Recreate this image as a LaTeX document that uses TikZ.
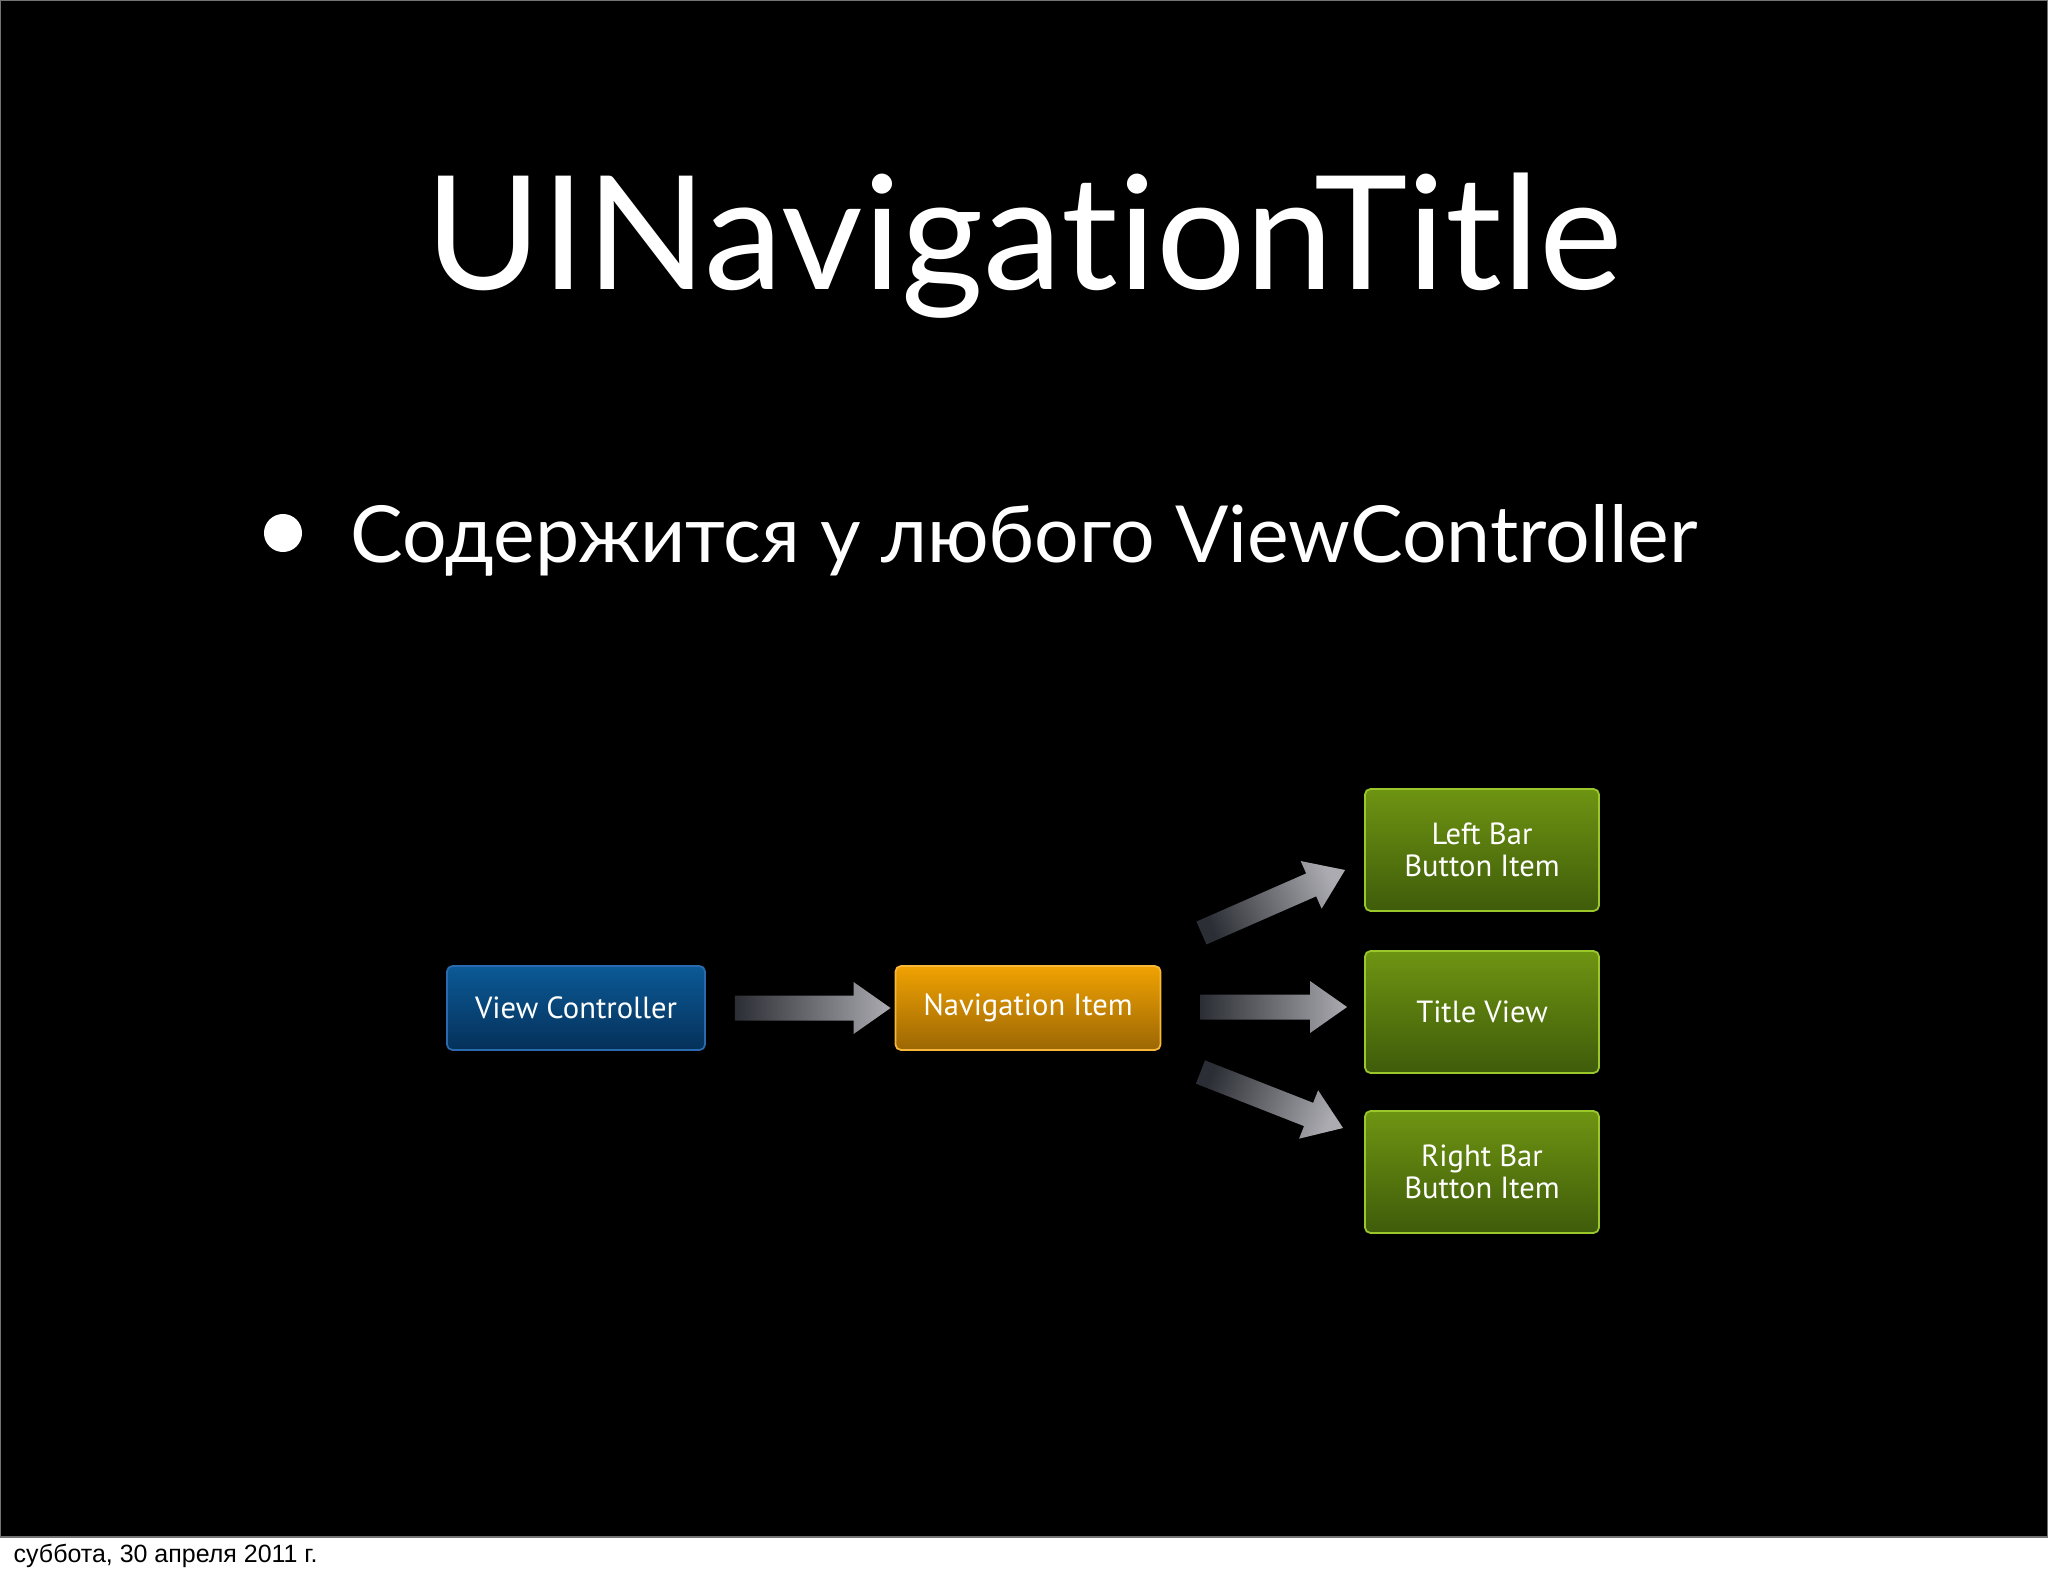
\documentclass[tikz,border=0pt]{standalone}
\usepackage{fontspec}
\setmainfont{Lato}[Ligatures={NoCommon,NoRare}]
\newfontfamily\boxfont{PT Sans}
\newfontfamily\footfont{Liberation Sans}
\usetikzlibrary{calc}

\definecolor{vctop}{HTML}{0B5A96}
\definecolor{vcbot}{HTML}{05305A}
\definecolor{vcline}{HTML}{2A6BB0}
\definecolor{nitop}{HTML}{F0A202}
\definecolor{nibot}{HTML}{9C6704}
\definecolor{niline}{HTML}{F7B83A}
\definecolor{gntop}{HTML}{6E9412}
\definecolor{gnbot}{HTML}{3F5C0A}
\definecolor{gnline}{HTML}{9BC72A}
\definecolor{arrdark}{HTML}{2B2E34}
\definecolor{arrlight}{HTML}{ABABB1}

% tail, tip, shading angle
\newcommand{\fatarrow}[3]{%
  \path ($(#2)!0.37cm!(#1)$) coordinate (fab);
  \shade[left color=arrdark, right color=arrlight, shading angle=#3]
    ($(#1)!0.125cm!90:(#2)$) -- ($(fab)!0.125cm!90:(#2)$) -- ($(fab)!0.26cm!90:(#2)$) -- (#2)
    -- ($(fab)!0.26cm!-90:(#2)$) -- ($(fab)!0.125cm!-90:(#2)$) -- ($(#1)!0.125cm!-90:(#2)$) -- cycle;
}

\begin{document}
\begin{tikzpicture}[x=0.01cm,y=-0.01cm,
  box/.style={rectangle,rounded corners=1.6pt,line width=0.5pt,inner sep=0,align=center,text=white,
    font=\boxfont\fontsize{8.7}{9.1}\selectfont},
  vcbox/.style={box,top color=vctop,bottom color=vcbot,draw=vcline,minimum width=2.58cm,minimum height=0.84cm},
  nibox/.style={box,top color=nitop,bottom color=nibot,draw=niline,minimum width=2.65cm,minimum height=0.84cm},
  gnbox/.style={box,top color=gntop,bottom color=gnbot,draw=gnline,minimum width=2.34cm,minimum height=1.22cm}]

	\useasboundingbox (0,0) rectangle (2048,1576);
	\fill[white] (0,0) rectangle (2048,1576);
	\filldraw[fill=black, draw=black!55, line width=0.5pt] (0,0) rectangle (2048,1537);

	\node [anchor=base, inner sep=0, text=white, font=\fontsize{45}{50}\selectfont] (title) at (1024, 290) {UINavigationTitle};
	\node [circle, fill=white, minimum size=0.38cm, inner sep=0] (dot) at (283, 533) {};
	\node [anchor=base west, inner sep=0, text=white, font=\fontsize{22.4}{26}\selectfont] (bullet) at (350, 562) {Содержится у любого ViewController};

	\node [vcbox] (vc) at (576, 1008) {View Controller};
	\node [nibox] (ni) at (1028, 1008) {\raisebox{-2pt}{Navigation Item}};
	\node [gnbox] (lb) at (1482, 850) {Left Bar\\Button Item};
	\node [gnbox] (tv) at (1482, 1012) {Title View};
	\node [gnbox] (rb) at (1482, 1172) {Right Bar\\Button Item};

	\coordinate (a1t) at ($(vc.east)+(29,0)$);
	\coordinate (a1h) at ($(ni.west)+(-4,0)$);
	\coordinate (a2t) at ($(ni.east)+(39,-1)$);
	\coordinate (a2h) at ($(tv.west)+(-17,-5)$);
	\coordinate (a3t) at ($(ni.east)+(40,-75)$);
	\coordinate (a3h) at ($(lb.west)+(-19,20)$);
	\coordinate (a4t) at ($(ni.east)+(39,64)$);
	\coordinate (a4h) at ($(rb.west)+(-21,-44)$);

	\fatarrow{a1t}{a1h}{90}
	\fatarrow{a2t}{a2h}{90}
	\fatarrow{a3t}{a3h}{113.5}
	\fatarrow{a4t}{a4h}{69}

	\node [anchor=base west, inner sep=0, font=\footfont\fontsize{7.1}{8}\selectfont] (date) at (13, 1562) {суббота, 30 апреля 2011 г.};
\end{tikzpicture}
\end{document}
